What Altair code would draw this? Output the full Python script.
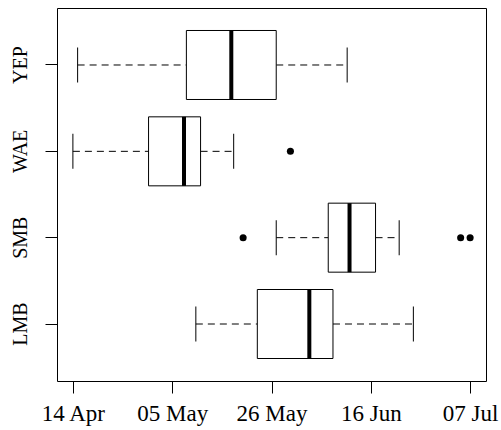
import altair as alt
import pandas as pd

species = ["YEP", "WAE", "SMB", "LMB"]
lower = ["2015-04-15T00:00:00", "2015-04-14T00:00:00", "2015-05-27T00:00:00", "2015-05-10T00:00:00"]
q1 = ["2015-05-08T00:00:00", "2015-04-30T00:00:00", "2015-06-07T00:00:00", "2015-05-23T00:00:00"]
median = ["2015-05-17T12:00:00", "2015-05-07T12:00:00", "2015-06-11T12:00:00", "2015-06-03T00:00:00"]
q3 = ["2015-05-27T00:00:00", "2015-05-11T00:00:00", "2015-06-17T00:00:00", "2015-06-08T00:00:00"]
upper = ["2015-06-11T00:00:00", "2015-05-18T00:00:00", "2015-06-22T00:00:00", "2015-06-25T00:00:00"]

out_species = ["WAE", "SMB", "SMB", "SMB"]
out_dates = ["2015-05-30T00:00:00", "2015-05-20T00:00:00", "2015-07-05T00:00:00", "2015-07-07T00:00:00"]

tick_dates = [(2015, 4, 14), (2015, 5, 5), (2015, 5, 26), (2015, 6, 16), (2015, 7, 7)]

boxes = pd.DataFrame({"species": species, "lower": lower, "q1": q1,
                      "median": median, "q3": q3, "upper": upper})
outl = pd.DataFrame({"species": out_species, "date": out_dates})

FONT = "Liberation Serif"

xscale = alt.Scale(
    type="time",
    domain=[alt.DateTime(year=2015, month=4, date=10, hours=15, minutes=22),
            alt.DateTime(year=2015, month=7, date=10, hours=8, minutes=38)],
    nice=False,
)
xaxis = alt.Axis(
    values=[alt.DateTime(year=y, month=m, date=d) for (y, m, d) in tick_dates],
    format="%d %b", title=None, grid=False, domain=False,
    tickSize=12, tickColor="black", tickWidth=1,
    labelFont=FONT, labelFontSize=23, labelColor="black", labelPadding=9,
    labelFlush=False, labelOverlap=False,
)
yscale = alt.Scale(domain=species, paddingInner=0, paddingOuter=0.16)
yaxis = alt.Axis(
    title=None, grid=False, domain=False, tickSize=12, tickColor="black",
    labelAngle=-90, labelAlign="center", labelBaseline="alphabetic",
    labelFont=FONT, labelFontSize=20, labelColor="black", labelPadding=19,
)

base = alt.Chart(boxes)
Y = alt.Y("species:N", scale=yscale, axis=yaxis, sort=species)

w_low = base.mark_rule(color="black", strokeWidth=1, strokeDash=[7, 5], opacity=1).encode(
    x=alt.X("lower:T", scale=xscale, axis=xaxis), x2="q1:T", y=Y)
w_up = base.mark_rule(color="black", strokeWidth=1, strokeDash=[7, 5], opacity=1).encode(
    x=alt.X("q3:T", scale=xscale, axis=xaxis), x2="upper:T", y=Y)
cap_low = base.mark_tick(color="black", size=35, thickness=1, opacity=1).encode(
    x=alt.X("lower:T", scale=xscale, axis=xaxis), y=Y)
cap_up = base.mark_tick(color="black", size=35, thickness=1, opacity=1).encode(
    x=alt.X("upper:T", scale=xscale, axis=xaxis), y=Y)
box = base.mark_bar(size=69, fill="white", stroke="black", strokeWidth=1, opacity=1).encode(
    x=alt.X("q1:T", scale=xscale, axis=xaxis), x2="q3:T", y=Y)
med = base.mark_tick(color="black", size=69, thickness=4, opacity=1).encode(
    x=alt.X("median:T", scale=xscale, axis=xaxis), y=Y)
pts = alt.Chart(outl).mark_point(filled=True, color="black", size=50, opacity=1).encode(
    x=alt.X("date:T", scale=xscale, axis=xaxis), y=Y)

chart = alt.layer(w_low, w_up, cap_low, cap_up, box, med, pts).properties(
    width=429, height=373,
    autosize=alt.AutoSizeParams(type="none"),
    padding={"left": 57, "top": 8, "right": 15, "bottom": 49},
    background="white",
).configure_view(stroke="black", strokeWidth=1)

chart.save("out.html", embed_options={"renderer": "svg", "actions": False})
